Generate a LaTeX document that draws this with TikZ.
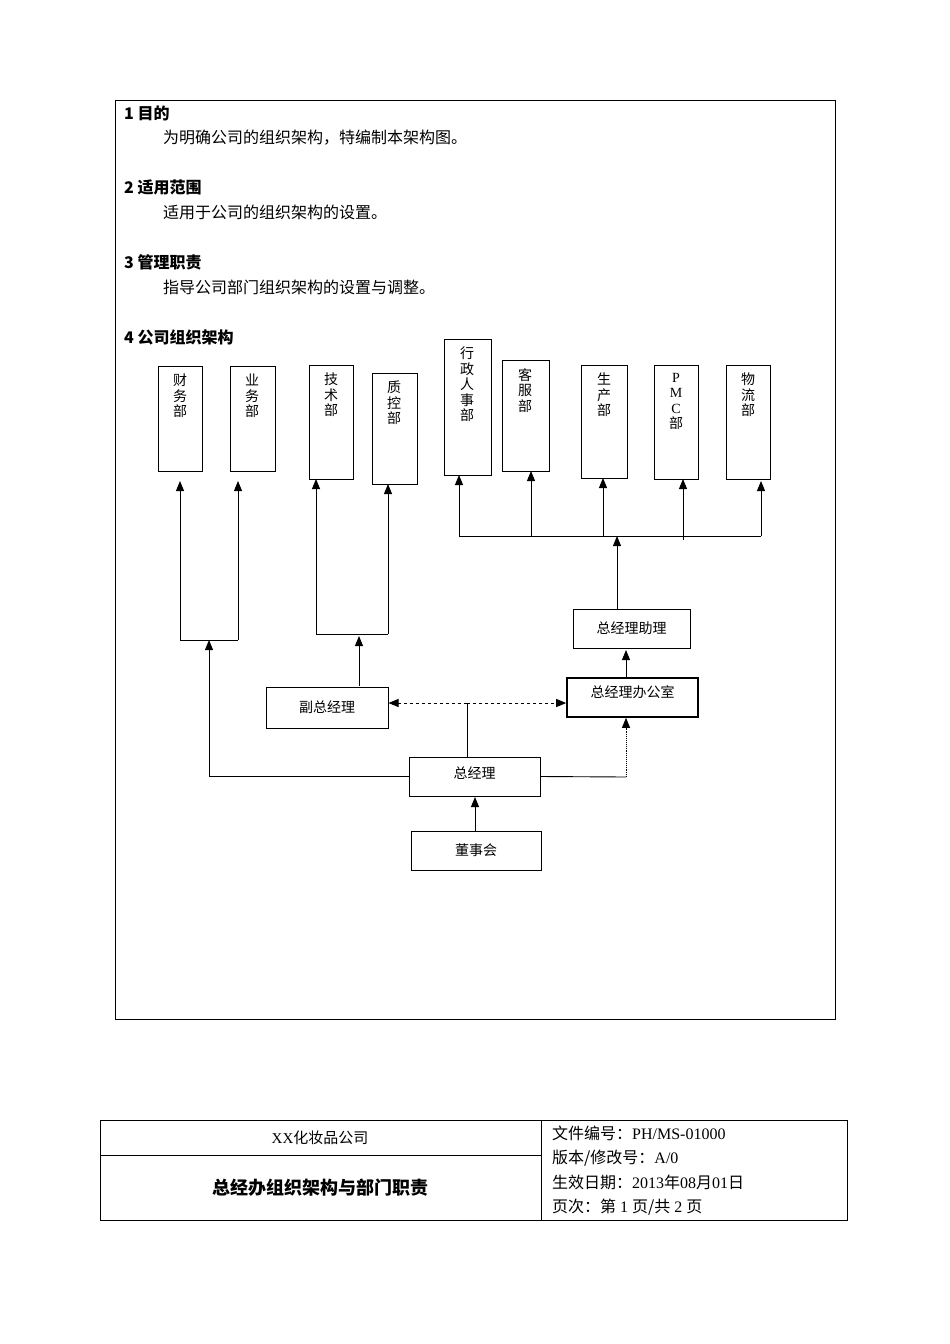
\documentclass[tikz,border=0pt]{standalone}
\usepackage{fontspec}
\setmainfont{Liberation Serif}
\newfontfamily\cjk{Noto Sans CJK SC}
\usetikzlibrary{arrows.meta}
\begin{document}
\begin{tikzpicture}[x=1pt,y=-1pt,
 bx/.style={draw,line width=1pt,inner sep=0pt},
 vt/.style={anchor=north,align=center,font=\cjk\fontsize{14}{15.5}\selectfont,inner sep=0pt},
 lbl/.style={font=\cjk\fontsize{14}{16}\selectfont},
 ar/.style={-{Triangle[length=10pt,width=8pt]},line width=0.9pt},
 ln/.style={line width=0.9pt},
 hd/.style={anchor=west,font=\cjk\bfseries\fontsize{16}{18}\selectfont,inner sep=0pt},
 bd/.style={anchor=west,font=\cjk\fontsize{16}{18}\selectfont,inner sep=0pt}]
\useasboundingbox (0,0) rectangle (950,1344);
\fill[white] (0,0) rectangle (950,1344);
\draw[line width=0.8pt] (115,100) rectangle (835,1019);
\node[hd] (h1) at (124,113) {1\ 目的};
\node[bd] (b1) at (163,138) {为明确公司的组织架构，特编制本架构图。};
\node[hd] (h2) at (124,187) {2\ 适用范围};
\node[bd] (b2) at (163,212) {适用于公司的组织架构的设置。};
\node[hd] (h3) at (124,262) {3\ 管理职责};
\node[bd] (b3) at (163,287) {指导公司部门组织架构的设置与调整。};
\node[hd] (h4) at (124,337) {4\ 公司组织架构};
% department boxes
\foreach \n/\xa/\ya/\xb/\yb in {cw/158/366/202/471, yw/230/366/275/471, js/309/365/353/479, zk/372/373/417/484, xz/444/339/491/475, kf/502/360/549/471, sc/581/365/627/478, pmc/654/365/698/479, wl/726/365/770/479}
 \draw[bx] (\xa,\ya) rectangle (\xb,\yb) coordinate (\n);
\node[vt] (tcw) at (180,374) {财\\务\\部};
\node[vt] (tyw) at (252,374) {业\\务\\部};
\node[vt] (tjs) at (331,373) {技\\术\\部};
\node[vt] (tzk) at (394,381) {质\\控\\部};
\node[vt] (txz) at (467,347) {行\\政\\人\\事\\部};
\node[vt] (tkf) at (525,368) {客\\服\\部};
\node[vt] (tsc) at (604,373) {生\\产\\部};
\node[vt,font=\fontsize{14}{15.5}\selectfont] (tpmc) at (676,373) {P\\M\\C\\{\cjk 部}};
\node[vt] (twl) at (748,373) {物\\流\\部};
% lower boxes
\node[bx,minimum width=117pt,minimum height=39pt,lbl] (zl) at (631.5,628.5) {总经理助理};
\node[bx,line width=1.6pt,minimum width=131pt,minimum height=39pt,lbl,text depth=12pt] (bgs) at (632.5,697.5) {总经理办公室};
\node[bx,minimum width=122pt,minimum height=41pt,lbl] (fz) at (327,707.5) {副总经理};
\node[bx,minimum width=131pt,minimum height=39pt,lbl,text depth=8pt] (zj) at (474.5,776.5) {总经理};
\node[bx,minimum width=130pt,minimum height=39pt,lbl] (dsh) at (476,850.5) {董事会};
% connectors
\coordinate (j1) at (209,640);
\draw[ln] (180,640) -- (238,640);
\draw[ar] (180,640) -- (180,481);
\draw[ar] (238,640) -- (238,481);
\draw[ar] (zj.west) -| (j1);
\draw[ln] (316,634) -- (388,634);
\draw[ar] (316,634) -- (316,479);
\draw[ar] (388,634) -- (388,484);
\draw[ar] (359,686) -- (359,636);
\draw[ln] (459,536) -- (761,536);
\draw[ar] (459,536) -- (459,475);
\draw[ar] (531,536) -- (531,471);
\draw[ar] (603,536) -- (603,478);
\draw[ar] (683,540) -- (683,479);
\draw[ar] (761,536) -- (761,481);
\draw[ar] (zl.north -| 617,0) -- (617,536);
\draw[ar] (bgs.north -| 626,0) -- (626,650);
\coordinate (dm) at (467,703);
\draw[ln] (zj.north -| dm) -- (dm);
\draw[ar,dashed] (dm) -- (fz.east |- dm);
\draw[ar,dashed] (dm) -- (bgs.west |- dm);
\draw[ln] (zj.east) -- (626,777);
\draw[ar,densely dotted] (626,777) -- (bgs.south -| 626,0);
\draw[ar] (dsh.north -| 475,0) -- (475,797);
% footer
\draw[line width=0.8pt] (100,1120) rectangle (847,1220);
\draw[line width=0.8pt] (541,1120) -- (541,1220);
\draw[line width=0.8pt] (100,1155) -- (541,1155);
\node[font=\fontsize{15}{17}\selectfont] (co) at (320,1138) {XX{\cjk 化妆品公司}};
\node[font=\cjk\bfseries\fontsize{18}{20}\selectfont] (ti) at (320,1188) {总经办组织架构与部门职责};
\node[bd,font=\fontsize{16}{18}\selectfont] (f1) at (552,1133) {{\cjk 文件编号：}PH/MS-01000};
\node[bd,font=\fontsize{16}{18}\selectfont] (f2) at (552,1158) {{\cjk 版本/修改号：}A/0};
\node[bd,font=\fontsize{16}{18}\selectfont] (f3) at (552,1182) {{\cjk 生效日期：}2013{\cjk 年}08{\cjk 月}01{\cjk 日}};
\node[bd,font=\fontsize{16}{18}\selectfont] (f4) at (552,1207) {{\cjk 页次：第} 1 {\cjk 页/共} 2 {\cjk 页}};
\end{tikzpicture}
\end{document}
